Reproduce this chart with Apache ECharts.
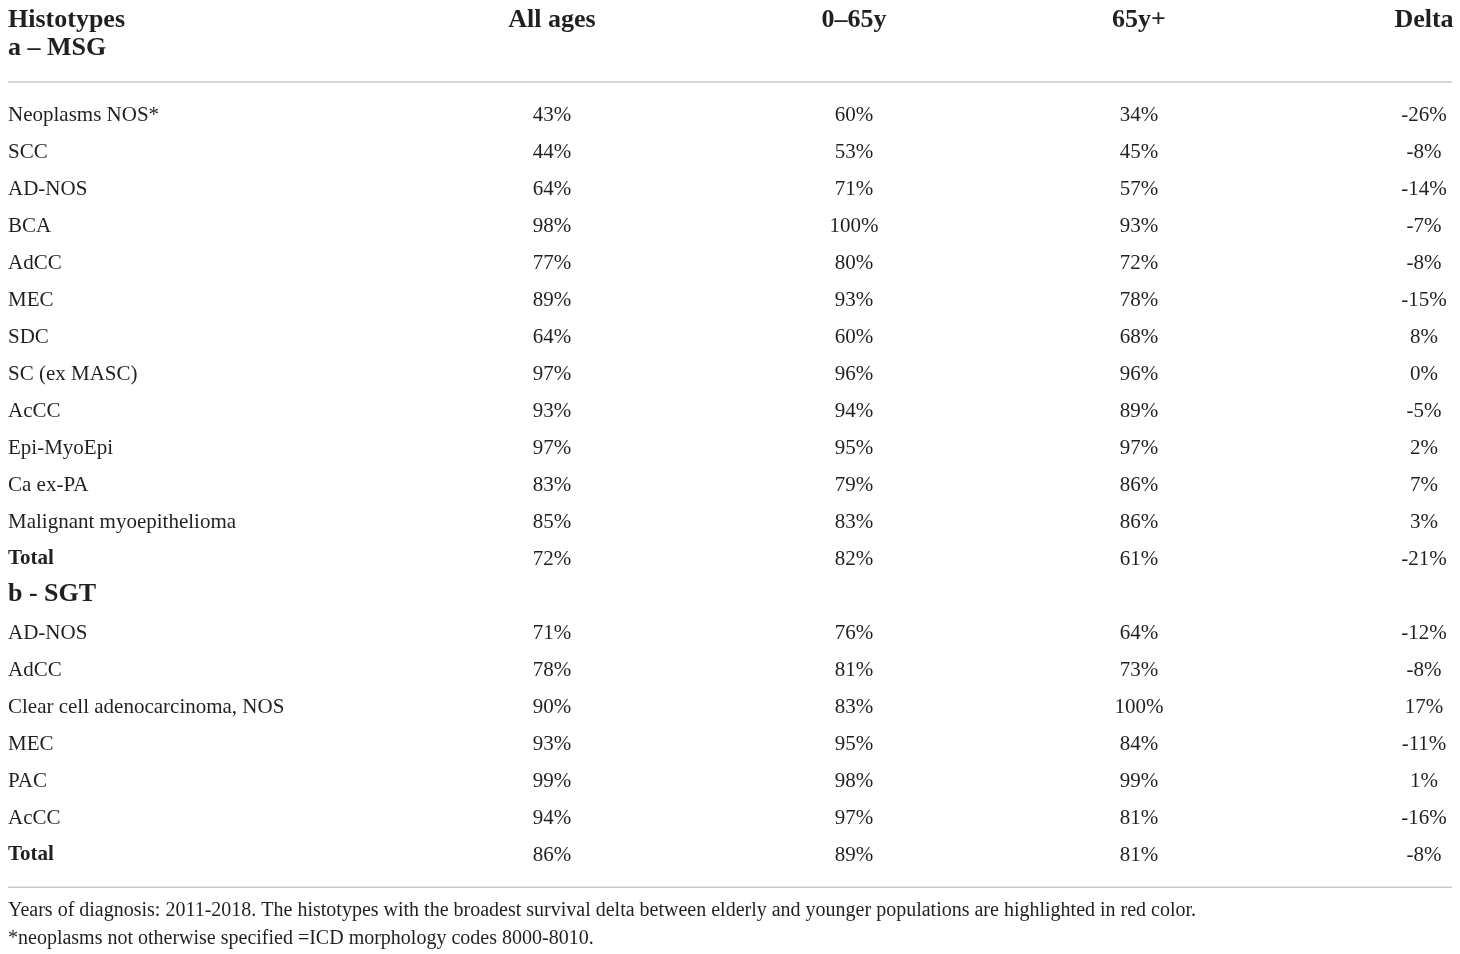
<!DOCTYPE html>
<html>
<head>
<meta charset="utf-8">
<script src="https://cdn.jsdelivr.net/npm/echarts@6/dist/echarts.min.js"></script>
<style>
html, body { margin: 0; padding: 0; background: #fff; }
#table { width: 1460px; height: 954px; }
</style>
</head>
<body>
<div id="table"></div>
<script>
var headers = ['Histotypes', 'All ages', '0\u201365y', '65y+', 'Delta'];
var sectionA = 'a \u2013 MSG';
var sectionB = 'b - SGT';

var msgNames = ['Neoplasms NOS*', 'SCC', 'AD-NOS', 'BCA', 'AdCC', 'MEC', 'SDC', 'SC (ex MASC)', 'AcCC', 'Epi-MyoEpi', 'Ca ex-PA', 'Malignant myoepithelioma', 'Total'];
var msgAll = [43, 44, 64, 98, 77, 89, 64, 97, 93, 97, 83, 85, 72];
var msgYoung = [60, 53, 71, 100, 80, 93, 60, 96, 94, 95, 79, 83, 82];
var msgOld = [34, 45, 57, 93, 72, 78, 68, 96, 89, 97, 86, 86, 61];
var msgDelta = [-26, -8, -14, -7, -8, -15, 8, 0, -5, 2, 7, 3, -21];

var sgtNames = ['AD-NOS', 'AdCC', 'Clear cell adenocarcinoma, NOS', 'MEC', 'PAC', 'AcCC', 'Total'];
var sgtAll = [71, 78, 90, 93, 99, 94, 86];
var sgtYoung = [76, 81, 83, 95, 98, 97, 89];
var sgtOld = [64, 73, 100, 84, 99, 81, 81];
var sgtDelta = [-12, -8, 17, -11, 1, -16, -8];

var notes = [
    'Years of diagnosis: 2011-2018. The histotypes with the broadest survival delta between elderly and younger populations are highlighted in red color.',
    '*neoplasms not otherwise specified =ICD morphology codes 8000-8010.'
];

// layout: column anchors on the x axis, row positions on the y axis
var colX = [8, 552, 854, 1139, 1424];
var ruleX = [8, 1452];
var FONT = '"Liberation Serif", "Times New Roman", serif';
var INK = '#231f20';

var rows = [];
rows.push({ kind: 'head', y: -2.57, cells: headers });
rows.push({ kind: 'section', y: -1.81, text: sectionA });
rows.push({ kind: 'rule', y: -0.89 });
msgNames.forEach(function (n, i) {
    rows.push({ kind: 'body', y: i, bold: n === 'Total',
        cells: [n, msgAll[i] + '%', msgYoung[i] + '%', msgOld[i] + '%', msgDelta[i] + '%'] });
});
rows.push({ kind: 'section', y: 12.95, text: sectionB });
sgtNames.forEach(function (n, i) {
    rows.push({ kind: 'body', y: 14 + i, bold: n === 'Total',
        cells: [n, sgtAll[i] + '%', sgtYoung[i] + '%', sgtOld[i] + '%', sgtDelta[i] + '%'] });
});
rows.push({ kind: 'rule', y: 20.87 });
rows.push({ kind: 'note', y: 21.52, text: notes[0] });
rows.push({ kind: 'note', y: 22.25, text: notes[1] });

function txt(api, x, y, s, size, weight, align) {
    var p = api.coord([x, y]);
    return {
        type: 'text',
        style: {
            x: p[0], y: p[1], text: s,
            fill: INK,
            font: weight + ' ' + size + 'px ' + FONT,
            align: align, verticalAlign: 'middle'
        }
    };
}

function renderRow(params, api) {
    var r = rows[params.dataIndex];
    var kids = [];
    if (r.kind === 'head') {
        r.cells.forEach(function (c, j) {
            kids.push(txt(api, colX[j], r.y, c, 26, 'bold', j === 0 ? 'left' : 'center'));
        });
    } else if (r.kind === 'section') {
        kids.push(txt(api, colX[0], r.y, r.text, 26, 'bold', 'left'));
    } else if (r.kind === 'rule') {
        var a = api.coord([ruleX[0], r.y]);
        var b = api.coord([ruleX[1], r.y]);
        kids.push({ type: 'line', shape: { x1: a[0], y1: a[1], x2: b[0], y2: b[1] },
            style: { stroke: '#c9c9c9', lineWidth: 1.5 } });
    } else if (r.kind === 'body') {
        r.cells.forEach(function (c, j) {
            kids.push(txt(api, colX[j], r.y, c, 21, (j === 0 && r.bold) ? 'bold' : 'normal', j === 0 ? 'left' : 'center'));
        });
    } else if (r.kind === 'note') {
        kids.push(txt(api, colX[0], r.y, r.text, 20, 'normal', 'left'));
    }
    return { type: 'group', children: kids };
}

var option = {
    backgroundColor: '#ffffff',
    animation: false,
    grid: { left: 0, right: 0, top: 4, bottom: 25 },
    xAxis: { type: 'value', min: 0, max: 1460, show: false },
    yAxis: { type: 'value', min: -3, max: 22, inverse: true, show: false },
    series: [
        {
            type: 'custom',
            clip: false,
            renderItem: renderRow,
            encode: { x: 0, y: 1 },
            data: rows.map(function (r) { return [0, r.y]; })
        }
    ]
};

var myChartTable = echarts.init(document.getElementById('table'));
myChartTable.setOption(option);
</script>
</body>
</html>
